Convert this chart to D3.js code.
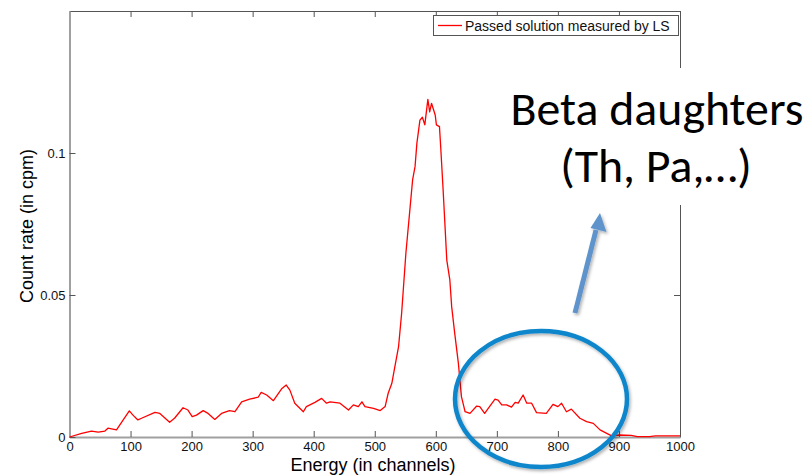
<!DOCTYPE html>
<html>
<head>
<meta charset="utf-8">
<script src="https://cdn.jsdelivr.net/npm/d3@7/dist/d3.min.js"></script>
<style>
  html, body { margin: 0; padding: 0; background: #fff; }
  svg { display: block; }
</style>
</head>
<body>
<script>
// ---- data ----
const channels = [0,20,36,47,58,63,77,88,98,104,112,118,140,148,164,172,186,194,201,208,219,227,238,249,262,271,282,295,309,314,323,334,348,355,361,369,383,388,402,413,421,427,443,457,465,473,479,484,498,509,517,522,528,532,539,544,551,558,562,566,569,574,578,582,587,590,593,599,601,606,608,612,618,623,626,631,637,642,648,656,667,672,680,688,697,702,708,716,724,730,735,743,749,757,765,781,792,800,806,814,822,836,847,858,869,880,888,900,920,930,950,960,1000];
const countRate = [0,0.0013,0.0021,0.0017,0.0021,0.0031,0.0025,0.006,0.0092,0.0077,0.006,0.0066,0.0087,0.0083,0.0052,0.0066,0.0103,0.0095,0.0072,0.0077,0.0093,0.0083,0.0062,0.0083,0.0093,0.0089,0.0124,0.0133,0.014,0.0157,0.0148,0.0128,0.0171,0.0183,0.0165,0.0119,0.0089,0.0107,0.0122,0.0136,0.0119,0.0124,0.0119,0.0095,0.0113,0.0107,0.0124,0.0107,0.0101,0.0093,0.0107,0.0154,0.0189,0.0236,0.0318,0.0435,0.0647,0.0811,0.0905,0.0952,0.1034,0.1116,0.1126,0.1099,0.1189,0.1145,0.1175,0.1134,0.1099,0.1093,0.1022,0.087,0.0623,0.0553,0.0459,0.0365,0.0259,0.0142,0.0089,0.0083,0.0109,0.0107,0.0083,0.0107,0.0133,0.013,0.0113,0.0113,0.0105,0.0122,0.0119,0.0148,0.0119,0.0119,0.0086,0.0083,0.0115,0.0107,0.0119,0.0089,0.0098,0.0066,0.0054,0.0048,0.0025,0.0013,0.0004,0.0007,0.0006,0.0001,0.0001,0.0004,0.0004];
const xTicks = [0,100,200,300,400,500,600,700,800,900,1000];
const yTicks = [0,0.05,0.1];
const yTickLabels = ["0","0.05","0.1"];
const seriesName = "Passed solution measured by LS";
const xTitle = "Energy (in channels)";
const yTitle = "Count rate (in cpm)";
const noteLines = ["Beta daughters","(Th, Pa,\u2026)"];

// ---- layout ----
const W = 810, H = 475;
const L = 69.5, R = 680, T = 11, B = 437;

const svg = d3.select("body").append("svg").attr("width", W).attr("height", H);
const defs = svg.append("defs");
const f = defs.append("filter").attr("id","sh").attr("x","-20%").attr("y","-20%").attr("width","140%").attr("height","140%");
f.append("feDropShadow").attr("dx",1.5).attr("dy",2).attr("stdDeviation",1.5).attr("flood-color","#000").attr("flood-opacity",0.3);

const x = d3.scaleLinear().domain([0,1000]).range([L,R]);
const y = d3.scaleLinear().domain([0,0.15]).range([B,T]);

const font = "Arial, 'Liberation Sans', sans-serif";

// top & right box lines with inward ticks
const topAx = svg.append("g").attr("transform",`translate(0,${T})`)
  .call(d3.axisTop(x).tickValues(xTicks).tickSizeInner(-6).tickSizeOuter(0).tickFormat(""));
const rightAx = svg.append("g").attr("transform",`translate(${R},0)`)
  .call(d3.axisRight(y).tickValues(yTicks).tickSizeInner(-6).tickSizeOuter(0).tickFormat(""));
[topAx,rightAx].forEach(g => { g.selectAll("path,line").attr("stroke","#555").attr("stroke-width",1); });

// bottom axis
const botAx = svg.append("g").attr("transform",`translate(0,${B})`)
  .call(d3.axisBottom(x).tickValues(xTicks).tickSizeInner(-6).tickSizeOuter(0).tickPadding(5).tickFormat(d3.format("d")));
botAx.select(".domain").attr("stroke","#a0a0a0").attr("stroke-width",2);
botAx.selectAll(".tick line").attr("stroke","#555");
botAx.selectAll("text").attr("font-family",font).attr("font-size",13).attr("fill","#111");

// left axis
const leftAx = svg.append("g").attr("transform",`translate(${L},0)`)
  .call(d3.axisLeft(y).tickValues(yTicks).tickSizeInner(-6).tickSizeOuter(0).tickPadding(4).tickFormat((d,i)=>yTickLabels[i]));
leftAx.select(".domain").attr("stroke","#a0a0a0").attr("stroke-width",2);
leftAx.selectAll(".tick line").attr("stroke","#555");
leftAx.selectAll("text").attr("font-family",font).attr("font-size",13).attr("fill","#111");

// data line
const pts = channels.map((c,i)=>[c,countRate[i]]);
svg.append("path").datum(pts)
  .attr("d", d3.line().x(d=>x(d[0])).y(d=>y(d[1])))
  .attr("fill","none").attr("stroke","#ff0000").attr("stroke-width",1.3).attr("stroke-linejoin","round");

// legend
const lg = svg.append("g");
lg.append("rect").attr("x",433.5).attr("y",15.5).attr("width",245).attr("height",20)
  .attr("fill","#fff").attr("stroke","#555").attr("stroke-width",1);
lg.append("line").attr("x1",438).attr("x2",462).attr("y1",25.5).attr("y2",25.5).attr("stroke","#ff0000").attr("stroke-width",1.3);
lg.append("text").attr("x",465).attr("y",30.5).text(seriesName)
  .attr("font-family",font).attr("font-size",14).attr("fill","#111");

// axis titles
svg.append("text").attr("x",373).attr("y",471).attr("text-anchor","middle").text(xTitle)
  .attr("font-family",font).attr("font-size",18).attr("fill","#000");
svg.append("text").attr("transform","translate(33,226) rotate(-90)").attr("text-anchor","middle").text(yTitle)
  .attr("font-family",font).attr("font-size",18).attr("fill","#000");

// annotation: white box, text, arrow, ellipse
svg.append("rect").attr("x",495).attr("y",68).attr("width",315).attr("height",137).attr("fill","#fff");
const nf = "Carlito, Calibri, Lato, 'Open Sans', sans-serif";
const n1 = svg.append("text").attr("x",657).attr("y",125).attr("text-anchor","middle").text(noteLines[0])
  .attr("font-family",nf).attr("font-size",44).attr("fill","#000");
const n2 = svg.append("text").attr("x",656).attr("y",182).attr("text-anchor","middle").text(noteLines[1])
  .attr("font-family",nf).attr("font-size",44).attr("fill","#000");
// fit the first line to the width seen in the picture
const w1 = n1.node().getComputedTextLength();
const fs = 44 * 293 / w1;
n1.attr("font-size",fs); n2.attr("font-size",fs);

const ag = svg.append("g").attr("filter","url(#sh)");
ag.append("line").attr("x1",575).attr("y1",313).attr("x2",596).attr("y2",230)
  .attr("stroke","#5f93cc").attr("stroke-width",5);
ag.append("path").attr("d","M600,213 L606.5,232 L590.5,228 Z").attr("fill","#5f93cc");

svg.append("ellipse").attr("cx",541).attr("cy",399).attr("rx",86).attr("ry",68)
  .attr("fill","none").attr("stroke","#0f86cc").attr("stroke-width",4.5).attr("filter","url(#sh)");
</script>
</body>
</html>
